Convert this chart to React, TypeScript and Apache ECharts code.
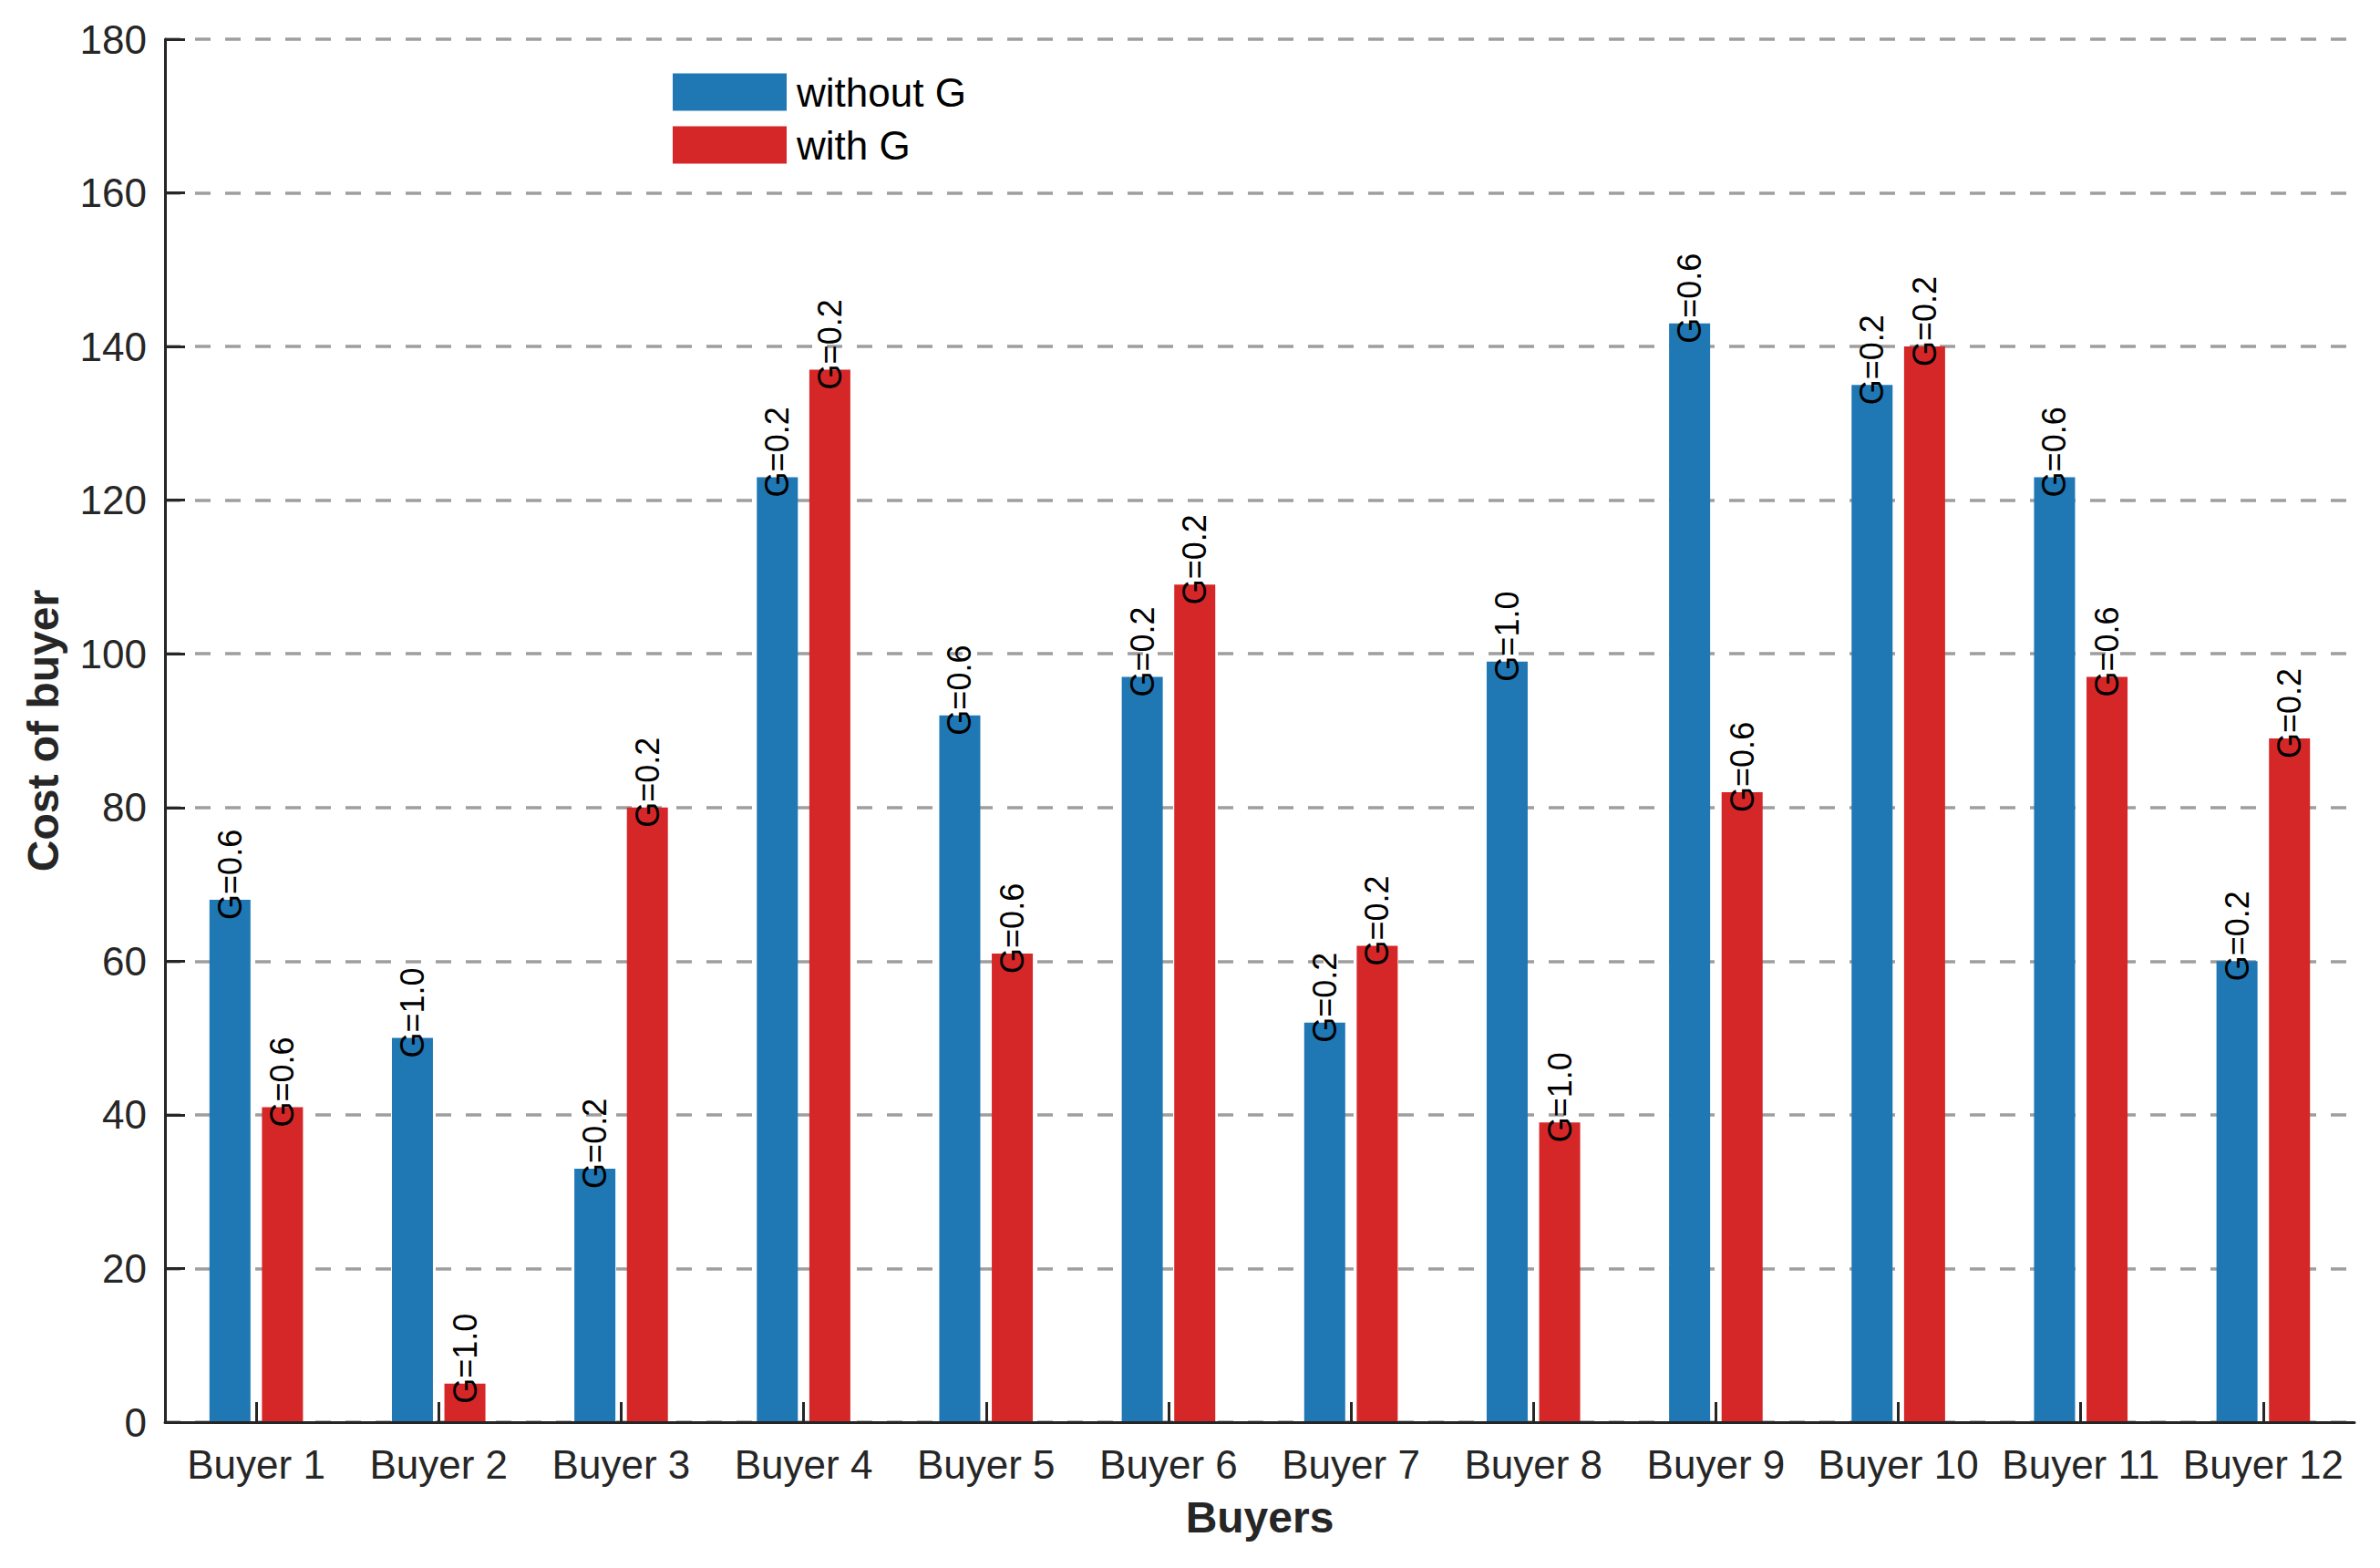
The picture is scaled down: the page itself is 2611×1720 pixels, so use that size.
import { useEffect, useRef } from "react";
import * as echarts from "echarts";

const buyers = [
  "Buyer 1", "Buyer 2", "Buyer 3", "Buyer 4", "Buyer 5", "Buyer 6",
  "Buyer 7", "Buyer 8", "Buyer 9", "Buyer 10", "Buyer 11", "Buyer 12",
];
const withoutG = [68, 50, 33, 123, 92, 97, 52, 99, 143, 135, 123, 60];
const withG = [41, 5, 80, 137, 61, 109, 62, 39, 82, 140, 97, 89];
const gWithout = ["0.6", "1.0", "0.2", "0.2", "0.6", "0.2", "0.2", "1.0", "0.6", "0.2", "0.6", "0.2"];
const gWith = ["0.6", "1.0", "0.2", "0.2", "0.6", "0.2", "0.2", "1.0", "0.6", "0.2", "0.6", "0.2"];

const FONT = "'Liberation Sans', Arial, Helvetica, sans-serif";
const AXIS = "#262626";

export default function App() {
  const ref = useRef<HTMLDivElement>(null);

  useEffect(() => {
    document.body.style.margin = "0";
    if (!ref.current) return;
    const chart = echarts.init(ref.current, undefined, { renderer: "svg" });

    const barLabel = (tags: string[]) => ({
      show: true,
      position: "insideTop" as const,
      distance: 22,
      rotate: 90,
      align: "left" as const,
      verticalAlign: "middle" as const,
      color: "#000",
      fontSize: 36,
      fontFamily: FONT,
      formatter: (p: any) => "G=" + tags[p.dataIndex],
    });

    chart.setOption({
      animation: false,
      backgroundColor: "#fff",
      textStyle: { fontFamily: FONT },
      grid: { left: 181, top: 43, width: 2402, height: 1517, containLabel: false },
      legend: {
        orient: "vertical",
        left: 738,
        top: 79,
        padding: 0,
        itemWidth: 125,
        itemHeight: 41,
        itemGap: 14,
        icon: "rect",
        textStyle: { fontSize: 44, color: "#000", fontFamily: FONT, padding: [0, 0, 0, 6] },
        data: ["without G", "with G"],
      },
      xAxis: {
        type: "category",
        data: buyers,
        name: "Buyers",
        nameLocation: "middle",
        nameGap: 80,
        nameTextStyle: { fontSize: 48, fontWeight: "bold", color: AXIS, fontFamily: FONT },
        axisLine: { show: true, lineStyle: { color: AXIS, width: 3 } },
        axisTick: {
          show: true,
          interval: 0,
          alignWithLabel: true,
          inside: true,
          length: 22,
          lineStyle: { color: AXIS, width: 3 },
        },
        axisLabel: { fontSize: 44, color: AXIS, margin: 24, fontFamily: FONT, interval: 0 },
        splitLine: { show: false },
        z: 5,
      },
      yAxis: {
        type: "value",
        min: 0,
        max: 180,
        interval: 20,
        name: "Cost of buyer",
        nameLocation: "middle",
        nameGap: 110,
        nameTextStyle: { fontSize: 48, fontWeight: "bold", color: AXIS, fontFamily: FONT },
        axisLine: { show: true, lineStyle: { color: AXIS, width: 3 } },
        axisTick: { show: true, inside: true, length: 22, lineStyle: { color: AXIS, width: 3 } },
        axisLabel: { fontSize: 44, color: AXIS, margin: 20, fontFamily: FONT },
        splitLine: { show: true, lineStyle: { color: "#9e9e9e", width: 3.5, type: [17, 16] } },
      },
      series: [
        {
          name: "without G",
          type: "bar",
          data: withoutG,
          barWidth: 45,
          barGap: "28%",
          itemStyle: { color: "#1f77b4" },
          label: barLabel(gWithout),
          z: 3,
        },
        {
          name: "with G",
          type: "bar",
          data: withG,
          barWidth: 45,
          itemStyle: { color: "#d62728" },
          label: barLabel(gWith),
          z: 3,
        },
      ],
    });

    return () => chart.dispose();
  }, []);

  return <div ref={ref} style={{ width: 2611, height: 1720 }} />;
}
